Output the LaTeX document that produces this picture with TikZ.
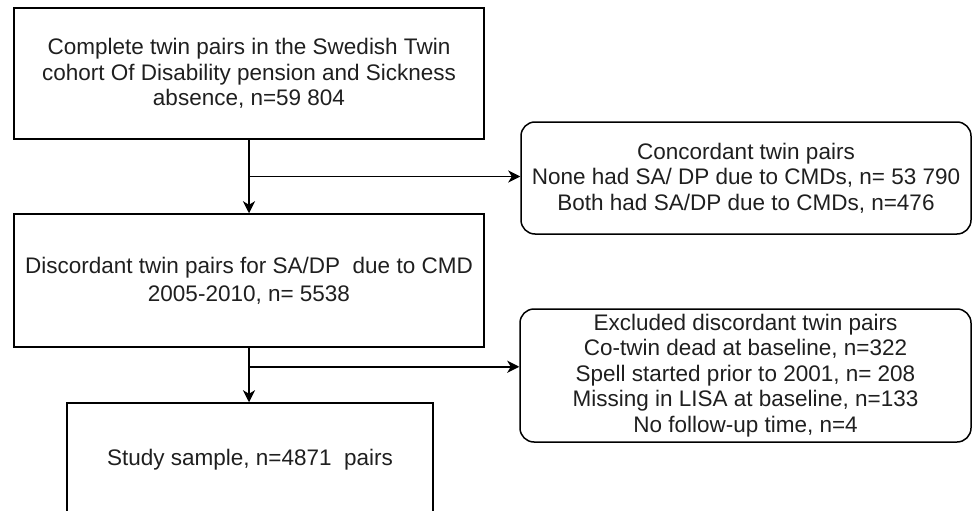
\documentclass[tikz,border=0pt]{standalone}
\usepackage{fontspec}
\setmainfont{Liberation Sans}
\usetikzlibrary{arrows.meta,calc}
\begin{document}
\begin{tikzpicture}[x=1pt,y=-1pt,
  box/.style={draw=black, line width=1.5pt, align=center, text=black!88, font=\fontsize{22.5}{25.5}\selectfont, inner sep=0pt},
  rbox/.style={box, rounded corners=14pt},
  conn/.style={draw=black, line width=1.5pt},
  arr/.style={conn, -{Stealth[length=12pt,width=12pt,inset=3.5pt]}}]
\useasboundingbox (0,0) rectangle (972,511);
\clip (0,0) rectangle (972,511);
\node[box, minimum width=470pt, minimum height=131pt] (b1) at (249,73.5)
  {Complete twin pairs in the Swedish Twin\\cohort Of Disability pension and Sickness\\absence, n=59 804};
\node[rbox, minimum width=450pt, minimum height=112pt] (c) at (746,178)
  {Concordant twin pairs\\None had SA/ DP due to CMDs, n= 53 790\\Both had SA/DP due to CMDs, n=476};
\node[box, font=\fontsize{22.5}{28}\selectfont, minimum width=470pt, minimum height=133pt] (d) at (249,280.5)
  {Discordant twin pairs for SA/DP\ \ due to CMD\\2005-2010, n= 5538};
\node[rbox, minimum width=451pt, minimum height=133pt] (e) at (745.5,375.5)
  {Excluded discordant twin pairs\\Co-twin dead at baseline, n=322\\Spell started prior to 2001, n= 208\\Missing in LISA at baseline, n=133\\No follow-up time, n=4};
\node[box, minimum width=366pt, minimum height=114pt] (s) at (250,460)
  {Study sample, n=4871\ \ pairs};
\draw[arr] (b1.south) -- (b1.south |- d.north);
\coordinate (j1) at ($(b1.south)!0.5!(b1.south |- d.north)$);
\draw[arr] (j1) -- (j1 -| c.west);
\draw[arr] (d.south) -- (d.south |- s.north);
\coordinate (j2) at ($(d.south)+(0,19)$);
\draw[arr] (j2) -- (j2 -| e.west);
\end{tikzpicture}
\end{document}
